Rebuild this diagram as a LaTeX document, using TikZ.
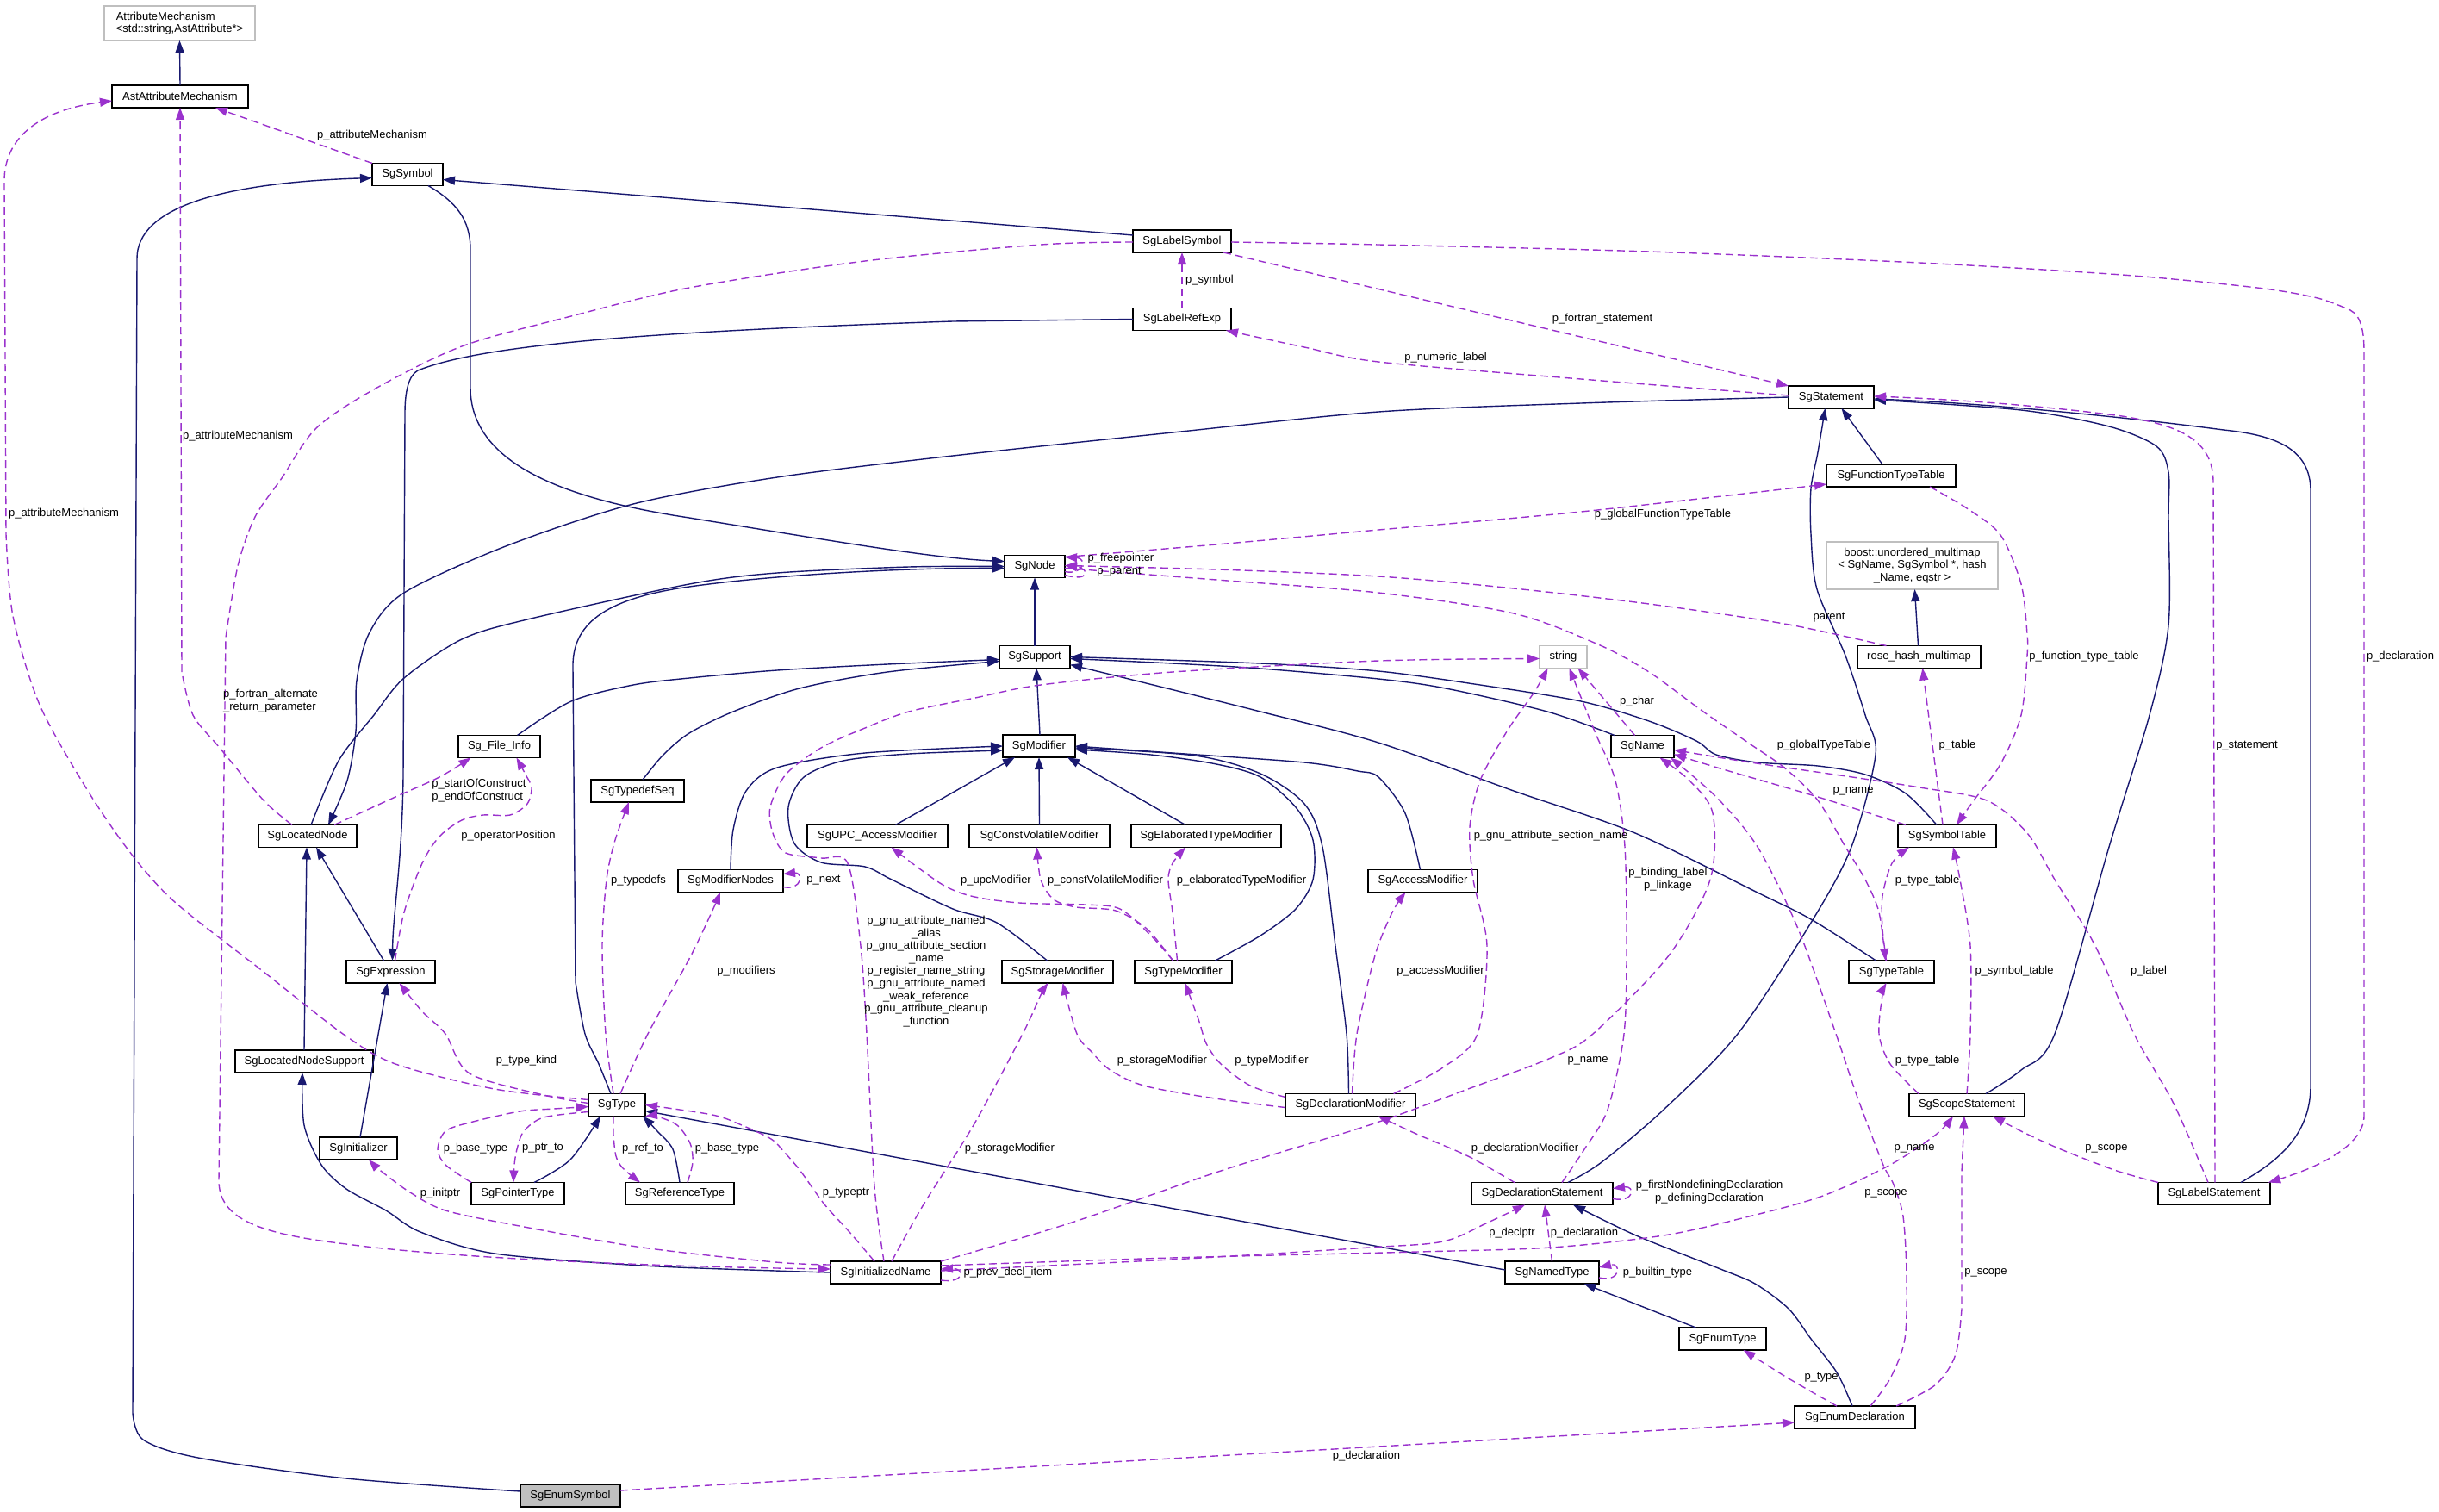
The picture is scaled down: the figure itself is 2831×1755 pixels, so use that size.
\documentclass[tikz,border=0pt]{standalone}
\usepackage{fontspec}
\setmainfont{Liberation Sans}
\usetikzlibrary{arrows.meta}
\definecolor{inhc}{HTML}{191970}
\definecolor{usec}{HTML}{9A32CD}
\definecolor{grayb}{HTML}{BFBFBF}
\tikzset{
 cls/.style={draw=black, line width=1.5pt, fill=white, minimum height=26pt, inner sep=0pt, outer sep=0pt, font=\fontsize{13}{15.5}\selectfont},
 ext/.style={cls, draw=grayb},
 inh/.style={draw=inhc, line width=1.4pt, -{Triangle[length=14pt,width=10pt]}},
 use/.style={draw=usec, line width=1.4pt, dash pattern=on 9pt off 5pt, -{Triangle[length=14pt,width=10pt]}},
 lbl/.style={font=\fontsize{13}{15}\selectfont, inner sep=0pt, align=center},
}
\begin{document}
\begin{tikzpicture}[x=1pt,y=-1pt]
\fill[white] (0,0) rectangle (2831,1755);
\useasboundingbox (0,0) rectangle (2831,1755);
% nodes
\node[ext, minimum width=175pt, minimum height=40pt, align=left, font=\fontsize{13}{14.3}\selectfont] (attr) at (208.5,27) {AttributeMechanism\\<std::string,AstAttribute*>};
\node[cls, minimum width=158pt] (ast) at (209,112) {AstAttributeMechanism};
\node[cls, minimum width=82pt] (sym) at (473,202.5) {SgSymbol};
\node[cls, minimum width=114pt] (lsym) at (1372,280) {SgLabelSymbol};
\node[cls, minimum width=114pt] (lref) at (1372,370.5) {SgLabelRefExp};
\node[cls, minimum width=99pt] (stmt) at (2125.5,461) {SgStatement};
\node[cls, minimum width=150pt] (ftt) at (2195,552) {SgFunctionTypeTable};
\node[cls, minimum width=70pt] (node) at (1201,657.5) {SgNode};
\node[ext, minimum width=199pt, minimum height=55pt, align=center, font=\fontsize{13}{14.4}\selectfont] (boost) at (2219.5,656.5) {boost::unordered\_multimap\\< SgName, SgSymbol *, hash\\\_Name, eqstr >};
\node[cls, minimum width=82pt] (sup) at (1201,762.5) {SgSupport};
\node[cls, minimum width=143pt] (rose) at (2227.5,762.5) {rose\_hash\_multimap};
\node[ext, minimum width=55pt] (str) at (1814.5,762.5) {string};
\node[cls, minimum width=95pt] (finfo) at (579.5,866.5) {Sg\_File\_Info};
\node[cls, minimum width=84pt] (mod) at (1206,866) {SgModifier};
\node[cls, minimum width=73pt] (name) at (1906.5,866.5) {SgName};
\node[cls, minimum width=108pt] (tdseq) at (740,918) {SgTypedefSeq};
\node[cls, minimum width=114pt] (locn) at (357,970.5) {SgLocatedNode};
\node[cls, minimum width=163pt] (upc) at (1018.5,970.5) {SgUPC\_AccessModifier};
\node[cls, minimum width=163pt] (cv) at (1206.5,970.5) {SgConstVolatileModifier};
\node[cls, minimum width=174pt] (elab) at (1400,970.5) {SgElaboratedTypeModifier};
\node[cls, minimum width=114pt] (symtab) at (2260,970.5) {SgSymbolTable};
\node[cls, minimum width=122pt] (modn) at (848,1022.5) {SgModifierNodes};
\node[cls, minimum width=127pt] (acc) at (1651.5,1022.5) {SgAccessModifier};
\node[cls, minimum width=103pt] (expr) at (453.5,1128) {SgExpression};
\node[cls, minimum width=129pt] (stor) at (1227.5,1128) {SgStorageModifier};
\node[cls, minimum width=113pt] (tmod) at (1373.5,1128) {SgTypeModifier};
\node[cls, minimum width=99pt] (ttab) at (2195.5,1128) {SgTypeTable};
\node[cls, minimum width=160pt] (lns) at (353,1232) {SgLocatedNodeSupport};
\node[cls, minimum width=66pt] (type) at (716,1282.5) {SgType};
\node[cls, minimum width=151pt] (dmod) at (1567.5,1282.5) {SgDeclarationModifier};
\node[cls, minimum width=134pt] (scope) at (2283,1282.5) {SgScopeStatement};
\node[cls, minimum width=90pt] (init) at (416,1333) {SgInitializer};
\node[cls, minimum width=108pt] (ptr) at (601,1385.5) {SgPointerType};
\node[cls, minimum width=126pt] (ref) at (789,1385.5) {SgReferenceType};
\node[cls, minimum width=164pt] (dstmt) at (1790,1385.5) {SgDeclarationStatement};
\node[cls, minimum width=130pt] (lstmt) at (2570,1385.5) {SgLabelStatement};
\node[cls, minimum width=128pt] (iname) at (1028,1477) {SgInitializedName};
\node[cls, minimum width=109pt] (ntype) at (1801.5,1477) {SgNamedType};
\node[cls, minimum width=101pt] (etype) at (1999.5,1554) {SgEnumType};
\node[cls, minimum width=140pt] (edecl) at (2153,1645) {SgEnumDeclaration};
\node[cls, minimum width=116pt, fill=grayb] (esym) at (662,1736) {SgEnumSymbol};

% inheritance edges
\draw[inh] (ast.north) -- (attr.south);
\draw[inh] plot[smooth,tension=0.5] coordinates {([yshift=5pt]esym.west) (402,1716) (230,1692) (166,1671) (154,1640)} -- (159,300) .. controls (159,240) and (260,212) .. ([yshift=-4pt]sym.west);
\draw[inh] ([yshift=7pt]lsym.west) -- ([yshift=-6pt]sym.east);
\draw[inh] ([xshift=24pt]sym.south) .. controls (530,235) and (546,255) .. (546,290) -- (546,450) .. controls (546,540) and (660,580) .. (800,601) .. controls (950,625) and (1080,648) .. ([yshift=6pt]node.west);
\draw[inh] (lref.west) -- (1106,373) .. controls (750,385) and (560,400) .. (485,430) .. controls (474,436) and (470,455) .. (470,480) -- (468,900) .. controls (467,1000) and (456,1060) .. ([xshift=2pt]expr.north);
\draw[inh] plot[smooth,tension=0.5] coordinates {(stmt.west) (1835,468) (1600,478) (1361,502) (1106,529) (902,554) (735,585) (587,634) (469,688) (429,734) (414,790) (413,849) (403,906) ([xshift=24pt]locn.north)};
\draw[inh] plot[smooth,tension=0.5] coordinates {([xshift=4pt]locn.north) (393,883) (434,830) (469,787) (536,742) (612,719) (800,678) (902,665) (1055,658) (node.west)};
\draw[inh] plot[smooth,tension=0.5] coordinates {([xshift=-7pt]type.north) (695,1235) (679,1200) (668,1140)} -- (665,775) .. controls (664,725) and (700,695) .. (800,681) .. controls (900,667) and (1050,659) .. ([yshift=-2pt]node.west);
\draw[inh] (sup.north) -- (node.south);
\draw[inh] ([xshift=1pt]mod.north) -- ([xshift=2pt]sup.south);
\draw[inh] plot[smooth,tension=0.5] coordinates {([xshift=21pt]finfo.north) (663,814) (735,795) (800,787) (902,778) (1030,771) ([yshift=-3pt]sup.west)};
\draw[inh] plot[smooth,tension=0.5] coordinates {([xshift=6pt]tdseq.north) (770,876) (800,851) (851,826) (928,799) (1030,780) ([yshift=-5pt]sup.west)};
\draw[inh] plot[smooth,tension=0.5] coordinates {([xshift=4pt]name.north west) (1796,826) (1678,799) (1600,788) (1463,776) (1361,770) ([yshift=-2pt]sup.east)};
\draw[inh] plot[smooth,tension=0.5] coordinates {([xshift=-12pt]symtab.north) (2212,921) (2165,899) (2110,889) (2040,885) (1992,876) (1969,860) (1914,837) (1835,814) (1718,795) (1600,779) (1463,770) (sup.east)};
\draw[inh] plot[smooth,tension=0.5] coordinates {([xshift=-18pt]ttab.north) (2102,1067) (2040,1036) (1898,967) (1757,918) (1600,862) (1463,826) (1310,788) ([yshift=-9pt]sup.east)};
\draw[inh] plot[smooth,tension=0.5] coordinates {(modn.north) (851,963) (866,918) (902,891) (1004,874) (mod.west)};
\draw[inh] plot[smooth,tension=0.5] coordinates {([xshift=-12pt]stor.north) (1157,1071) (1106,1055) (1035,1021) (1004,1006) (953,1001) (922,979) (915,937) (933,902) (979,883) (1055,875) ([yshift=-5pt]mod.west)};
\draw[inh] ([xshift=21pt]upc.north) -- ([xshift=-28pt]mod.south);
\draw[inh] (cv.north) -- (mod.south);
\draw[inh] ([xshift=-24pt]elab.north) -- ([xshift=33pt]mod.south);
\draw[inh] plot[smooth,tension=0.5] coordinates {([xshift=37pt]tmod.north) (1463,1086) (1504,1055) (1524,1021) (1524,975) (1504,937) (1463,902) (1412,887) (1336,876) ([yshift=-4pt]mod.east)};
\draw[inh] plot[smooth,tension=0.5] coordinates {([xshift=-2pt]dmod.north) (1563,1200) (1550,1098) (1535,983) (1514,933) (1463,898) (1387,877) ([yshift=-2pt]mod.east)};
\draw[inh] plot[smooth,tension=0.5] coordinates {([xshift=-3pt]acc.north) (1631,944) (1600,902) (1576,895) (1514,885) (1361,874) (mod.east)};
\draw[inh] (lns.north) -- ([xshift=-1pt]locn.south);
\draw[inh] ([xshift=-8pt]expr.north) -- ([xshift=10pt]locn.south);
\draw[inh] ([xshift=2pt]init.north) -- ([xshift=-4pt]expr.south);
\draw[inh] plot[smooth,tension=0.5] coordinates {(iname.west) (900,1475) (746,1469) (574,1455) (488,1430) (448,1405) (402,1380) (373,1352) (353,1306) ([xshift=-2pt]lns.south)};
\draw[inh] plot[smooth,tension=0.5] coordinates {([xshift=19pt]ptr.north) (662,1346) ([xshift=-19pt]type.south)};
\draw[inh] plot[smooth,tension=0.5] coordinates {(ref.north) (781,1334) (763,1313) ([xshift=30pt]type.south)};
\draw[inh] ([yshift=3pt]ntype.west) -- ([yshift=-7pt]type.east);
\draw[inh] ([xshift=-31pt]etype.north) -- ([xshift=37pt]ntype.south);
\draw[inh] plot[smooth,tension=0.5] coordinates {([xshift=30pt]dstmt.north) (1859,1349) (1931,1288) (2017,1200) (2102,1071) (2149,983) (2177,876) (2165,830) (2142,761) (2109,684) (2102,620) (2102,567) (2110,525) ([xshift=-7pt]stmt.south)};
\draw[inh] ([xshift=-10pt]ftt.north) -- ([xshift=12pt]stmt.south);
\draw[inh] plot[smooth,tension=0.5] coordinates {([xshift=22pt]scope.north) (2346,1242) (2385,1200) (2448,983) (2495,830) (2517,726) (2517,600) (2517,548) (2503,518) (2448,495) (2346,476) ([yshift=-3pt]stmt.east)};
\draw[inh] ([xshift=31pt]lstmt.north) .. controls (2640,1350) and (2682,1320) .. (2682,1260) -- (2682,570) .. controls (2682,520) and (2640,505) .. (2581,499) .. controls (2450,482) and (2300,468) .. ([yshift=-2pt]stmt.east);
\draw[inh] plot[smooth,tension=0.5] coordinates {([xshift=-3pt]edecl.north) (2132,1593) (2102,1554) (2076,1519) (2037,1490) (1997,1473) (1899,1434) ([xshift=36pt]dstmt.south)};
\draw[inh] ([xshift=-1pt]rose.north) -- ([xshift=3pt]boost.south);

% usage edges
\draw[use] (sym.north west) -- ([xshift=41pt]ast.south);
\draw[use] plot[smooth,tension=0.5] coordinates {([xshift=-18pt]locn.north) (306,929) (255,868) (224,830) (211,780)} -- (ast.south);
\draw[use] plot[smooth,tension=0.5] coordinates {([yshift=6pt]type.west) (574,1264) (459,1235) (398,1200) (306,1128) (204,1048) (153,992) (102,918) (46,818) (15,715) (7,620)} -- (5,210) .. controls (5,160) and (45,128) .. ([yshift=-5pt]ast.west);
\draw[use] plot[smooth,tension=0.5] coordinates {([yshift=-1pt]lsym.west) (1208,284) (1004,303) (800,334) (663,367) (536,402) (434,452) (367,497) (327,555) (296,600) (276,657) (262,740)} -- (254,1370) .. controls (254,1415) and (300,1432) .. (402,1444) .. controls (520,1460) and (750,1470) .. ([yshift=4pt]iname.west);
\draw[use] ([xshift=-9pt]lsym.south east) -- (stmt.north west);
\draw[use] plot[smooth,tension=0.5] coordinates {([yshift=-1pt]lsym.east) (1600,284) (1914,292) (2228,305) (2463,319) (2620,334) (2690,346) (2728,360)} .. controls (2741,367) and (2744,385) .. (2744,410) -- (2744,1295) .. controls (2744,1330) and (2690,1355) .. ([xshift=-2pt]lstmt.north east);
\draw[use] (lref.north) -- (lsym.south);
\draw[use] plot[smooth,tension=0.5] coordinates {([yshift=2pt]stmt.west) (1835,440) (1600,420) (1514,403) ([xshift=-6pt]lref.south east)};
\draw[use] ([yshift=-6pt]node.east) .. controls (1258,668) and (1262,648) .. ([yshift=11pt]node.east);
\draw[use] ([yshift=-10pt]node.east) .. controls (1264,676) and (1266,660) .. ([yshift=1pt]node.east);
\draw[use] plot[smooth,tension=0.5] coordinates {([yshift=11pt]node.east) (1412,632) (1600,615) (1835,594) ([yshift=-10pt]ftt.west)};
\draw[use] plot[smooth,tension=0.5] coordinates {([yshift=-2pt]node.east) (1412,673) (1600,688) (1757,712) (1855,748) (1914,780) (1977,826) (2032,864) (2071,891) (2110,929) (2142,983) (2165,1021) (2181,1059) ([xshift=-7pt]ttab.north)};
\draw[use] plot[smooth,tension=0.5] coordinates {([xshift=-38pt]rose.north) (2071,724) (1914,701) (1757,683) (1600,669) (1412,661) ([yshift=1pt]node.east)};
\draw[use] plot[smooth,tension=0.5] coordinates {([xshift=-2pt]iname.north) (1015,1377) (1006,1200) (999,1098) (984,1002) (953,996) (912,990) (897,967) (894,937) (912,899) (953,868) (1004,845) (1055,826) (1132,810) (1208,795) (1361,780) (1600,767) ([yshift=-2pt]str.west)};
\draw[use] plot[smooth,tension=0.5] coordinates {([xshift=50pt]dmod.north) (1675,1239) (1715,1200) (1726,1098) (1710,1021) (1706,960) (1718,906) (1749,849) (1781,803) ([xshift=-18pt]str.south)};
\draw[use] ([xshift=-9pt]name.north) -- ([xshift=17pt]str.south);
\draw[use] plot[smooth,tension=0.5] coordinates {([xshift=23pt]dstmt.north) (1839,1334) (1866,1288) (1885,1200) (1888,1100) (1886,983) (1875,906) (1851,849) ([xshift=7pt]str.south)};
\draw[use] plot[smooth,tension=0.5] coordinates {(iname.north east) (1244,1419) (1417,1359) (1589,1306) (1704,1264) (1800,1228) (1849,1200) (1937,1109) (1985,1021) (1988,944) (1961,906) ([xshift=20pt]name.south)};
\draw[use] plot[smooth,tension=0.5] coordinates {([xshift=18pt]edecl.north) (2194,1600) (2211,1554) (2213,1480) (2209,1412) (2198,1375) (2185,1350) (2155,1271) (2131,1200) (2087,1078) (2040,983) (1992,925) ([xshift=-4pt]name.south east)};
\draw[use] plot[smooth,tension=0.5] coordinates {([xshift=9pt]symtab.north west) (2110,925) (2000,893) ([yshift=-9pt]name.east)};
\draw[use] plot[smooth,tension=0.5] coordinates {([xshift=-7pt]lstmt.north) (2523,1281) (2477,1200) (2432,1098) (2385,1021) (2353,967) (2306,929) (2228,914) (2150,902) (2032,885) ([yshift=-4pt]name.east)};
\draw[use] ([xshift=1pt]lstmt.north) -- (2569,560) .. controls (2569,510) and (2530,494) .. (2463,483) .. controls (2380,472) and (2280,464) .. ([yshift=1pt]stmt.east);
\draw[use] plot[smooth,tension=0.5] coordinates {(lstmt.north west) (2457,1359) (2392,1334) (2346,1313) ([xshift=30pt]scope.south)};
\draw[use] plot[smooth,tension=0.5] coordinates {(scope.north) (2287,1200) (2287,1098) (2275,1021) ([xshift=7pt]symtab.south)};
\draw[use] plot[smooth,tension=0.5] coordinates {([xshift=-56pt]scope.north) (2194,1235) (2181,1200) (2185,1155) ([xshift=-6pt]ttab.south)};
\draw[use] plot[smooth,tension=0.5] coordinates {([xshift=-6pt]ttab.north) (2185,1078) (2185,1040) (2196,1002) ([xshift=-44pt]symtab.south)};
\draw[use] ([xshift=-5pt]symtab.north) -- ([xshift=4pt]rose.south);
\draw[use] plot[smooth,tension=0.5] coordinates {([xshift=45pt]ftt.south) (2283,590) (2322,621) (2346,678) (2353,736) (2353,761) (2346,830) (2322,887) (2291,929) ([xshift=11pt]symtab.north)};
\draw[use] plot[smooth,tension=0.5] coordinates {([xshift=-32pt]dstmt.north) (1704,1342) (1646,1317) ([xshift=32pt]dmod.south)};
\draw[use] ([yshift=-6pt]dstmt.east) .. controls (1898,1396) and (1898,1376) .. ([yshift=6pt]dstmt.east);
\draw[use] plot[smooth,tension=0.5] coordinates {([yshift=2pt]iname.east) (1359,1462) (1589,1448) (1675,1441) (1727,1419) ([xshift=-20pt]dstmt.south)};
\draw[use] plot[smooth,tension=0.5] coordinates {([yshift=8pt]iname.east) (1359,1460) (1646,1453) (1800,1448) (1931,1434) (2030,1412) (2116,1388) (2194,1352) (2247,1317) ([xshift=-16pt]scope.south)};
\draw[use] (ntype.north) -- ([xshift=3pt]dstmt.south);
\draw[use] ([yshift=-6pt]ntype.east) .. controls (1882,1489) and (1882,1465) .. ([yshift=6pt]ntype.east);
\draw[use] ([yshift=6pt]esym.east) -- ([yshift=-6pt]edecl.west);
\draw[use] plot[smooth,tension=0.5] coordinates {([xshift=-21pt]edecl.north) (2076,1600) ([xshift=24pt]etype.south)};
\draw[use] plot[smooth,tension=0.5] coordinates {([xshift=48pt]edecl.north) (2247,1607) (2270,1572) (2277,1519)} -- (2277,1360) -- ([xshift=-3pt]scope.south);
\draw[use] ([yshift=-9pt]iname.east) .. controls (1120,1490) and (1120,1472) .. ([yshift=4pt]iname.east);
\draw[use] plot[smooth,tension=0.5] coordinates {([xshift=-13pt]iname.north) (986,1430) (957,1398) (929,1359) (911,1338) (895,1322) (861,1306) (827,1294) (type.east)};
\draw[use] plot[smooth,tension=0.5] coordinates {([xshift=7pt]iname.north) (1072,1398) (1130,1306) (1187,1200) (1208,1155) ([xshift=-11pt]stor.south)};
\draw[use] plot[smooth,tension=0.5] coordinates {([yshift=9pt]iname.west) (900,1465) (746,1448) (603,1423) (517,1405) (476,1384) (442,1359) ([xshift=12pt]init.south)};
\draw[use] plot[smooth,tension=0.5] coordinates {([yshift=-3pt]dmod.west) (1417,1276) (1331,1261) (1290,1243) (1267,1221) (1250,1200) ([xshift=6pt]stor.south)};
\draw[use] plot[smooth,tension=0.5] coordinates {([yshift=9pt]dmod.west) (1451,1260) (1417,1235) (1400,1211) (1392,1186) ([xshift=2pt]tmod.south)};
\draw[use] plot[smooth,tension=0.5] coordinates {([xshift=2pt]dmod.north) (1575,1200) (1596,1109) (1616,1059) ([xshift=-20pt]acc.south)};
\draw[use] plot[smooth,tension=0.5] coordinates {([xshift=-12pt]tmod.north) (1336,1086) (1300,1055) (1259,1050) (1183,1048) (1127,1040) (1091,1025) ([xshift=16pt]upc.south)};
\draw[use] plot[smooth,tension=0.5] coordinates {([xshift=-12pt]tmod.north) (1331,1078) (1295,1057) (1249,1053) (1223,1044) (1208,1021) ([xshift=-3pt]cv.south)};
\draw[use] plot[smooth,tension=0.5] coordinates {([xshift=-7pt]tmod.north) (1361,1059) (1356,1021) (1361,1002) ([xshift=-24pt]elab.south)};
\draw[use] ([yshift=-7pt]modn.east) .. controls (932,1034) and (932,1012) .. ([yshift=8pt]modn.east);
\draw[use] plot[smooth,tension=0.5] coordinates {([xshift=4pt]type.north) (752,1200) (800,1113) (826,1059) ([xshift=-12pt]modn.south)};
\draw[use] plot[smooth,tension=0.5] coordinates {([xshift=-4pt]type.north) (703,1200) (699,1098) (704,1021) (714,975) ([xshift=-10pt]tdseq.south)};
\draw[use] plot[smooth,tension=0.5] coordinates {([yshift=2pt]type.west) (631,1271) (545,1246) (517,1200) (490,1174) ([xshift=10pt]expr.south)};
\draw[use] plot[smooth,tension=0.5] coordinates {([xshift=5pt]expr.north) (469,1059) (490,1002) (510,971) (536,952) (561,946) (592,946) (612,933) (617,914) (610,899) ([xshift=20pt]finfo.south)};
\draw[use] plot[smooth,tension=0.5] coordinates {([xshift=31pt]locn.north) (459,925) (510,902) ([xshift=-33pt]finfo.south)};
\draw[use] plot[smooth,tension=0.5] coordinates {(ptr.north west) (517,1352) (508,1334) (517,1313) (545,1303) (603,1290) (643,1287) ([yshift=-2pt]type.west)};
\draw[use] plot[smooth,tension=0.5] coordinates {([yshift=-8pt]type.west) (631,1297) (608,1313) (600,1334) (597,1352) ([xshift=-5pt]ptr.north)};
\draw[use] plot[smooth,tension=0.5] coordinates {([xshift=-4pt]type.south) (712,1317) (715,1342) (723,1356) ([xshift=17pt]ref.north west)};
\draw[use] plot[smooth,tension=0.5] coordinates {([xshift=9pt]ref.north) (804,1349) (801,1327) (786,1306) (763,1296) (type.south east)};

% labels
\node[lbl] (l1) at (432,157) {p\_attributeMechanism};
\node[lbl] (l2) at (276,506) {p\_attributeMechanism};
\node[lbl] (l3) at (74,596) {p\_attributeMechanism};
\node[lbl, align=left] (l4) at (314,814) {p\_fortran\_alternate\\\_return\_parameter};
\node[lbl] (l5) at (1404,325) {p\_symbol};
\node[lbl] (l6) at (1860,370) {p\_fortran\_statement};
\node[lbl] (l7) at (1678,415) {p\_numeric\_label};
\node[lbl] (l8) at (2786,762) {p\_declaration};
\node[lbl] (l9) at (1930,597) {p\_globalFunctionTypeTable};
\node[lbl] (l10) at (1301,648) {p\_freepointer};
\node[lbl] (l11) at (1299,664) {p\_parent};
\node[lbl] (l12) at (2123,717) {parent};
\node[lbl] (l13) at (2419,762) {p\_function\_type\_table};
\node[lbl] (l14) at (2608,866) {p\_statement};
\node[lbl] (l15) at (2117,865) {p\_globalTypeTable};
\node[lbl] (l16) at (2272,865) {p\_table};
\node[lbl] (l17) at (1900,814) {p\_char};
\node[lbl] (l18) at (2151,918) {p\_name};
\node[lbl] (l19) at (1800,970) {p\_gnu\_attribute\_section\_name};
\node[lbl] (l20) at (1936,1021) {p\_binding\_label\\p\_linkage};
\node[lbl, align=left] (l21) at (556,918) {p\_startOfConstruct\\p\_endOfConstruct};
\node[lbl] (l22) at (590,970) {p\_operatorPosition};
\node[lbl] (l23) at (741,1022) {p\_typedefs};
\node[lbl] (l24) at (866,1127) {p\_modifiers};
\node[lbl] (l25) at (956,1022) {p\_next};
\node[lbl, font=\fontsize{13}{14.6}\selectfont] (l26) at (1075,1127.5) {p\_gnu\_attribute\_named\\\_alias\\p\_gnu\_attribute\_section\\\_name\\p\_register\_name\_string\\p\_gnu\_attribute\_named\\\_weak\_reference\\p\_gnu\_attribute\_cleanup\\\_function};
\node[lbl] (l27) at (1156,1022) {p\_upcModifier};
\node[lbl] (l28) at (1283,1022) {p\_constVolatileModifier};
\node[lbl] (l29) at (1441,1022) {p\_elaboratedTypeModifier};
\node[lbl] (l30) at (1672,1127) {p\_accessModifier};
\node[lbl] (l31) at (2237,1022) {p\_type\_table};
\node[lbl] (l32) at (2338,1127) {p\_symbol\_table};
\node[lbl] (l33) at (2494,1127) {p\_label};
\node[lbl] (l34) at (2237,1231) {p\_type\_table};
\node[lbl] (l35) at (1349,1231) {p\_storageModifier};
\node[lbl] (l36) at (1476,1231) {p\_typeModifier};
\node[lbl] (l37) at (1843,1231) {p\_name};
\node[lbl] (l38) at (611,1231) {p\_type\_kind};
\node[lbl] (l39) at (1172,1333) {p\_storageModifier};
\node[lbl] (l40) at (1770,1333) {p\_declarationModifier};
\node[lbl] (l41) at (2222,1333) {p\_name};
\node[lbl] (l42) at (2445,1333) {p\_scope};
\node[lbl] (l43) at (552,1333) {p\_base\_type};
\node[lbl] (l44) at (630,1333) {p\_ptr\_to};
\node[lbl] (l45) at (746,1333) {p\_ref\_to};
\node[lbl] (l46) at (844,1333) {p\_base\_type};
\node[lbl] (l47) at (982,1385) {p\_typeptr};
\node[lbl] (l48) at (511,1385) {p\_initptr};
\node[lbl] (l49) at (1984,1384) {p\_firstNondefiningDeclaration\\p\_definingDeclaration};
\node[lbl] (l50) at (2189,1385) {p\_scope};
\node[lbl] (l51) at (1755,1431) {p\_declptr};
\node[lbl] (l52) at (1839,1431) {p\_declaration};
\node[lbl] (l53) at (2305,1477) {p\_scope};
\node[lbl] (l54) at (1170,1477) {p\_prev\_decl\_item};
\node[lbl] (l55) at (1924,1477) {p\_builtin\_type};
\node[lbl] (l56) at (2114,1599) {p\_type};
\node[lbl] (l57) at (1586,1690) {p\_declaration};
\end{tikzpicture}
\end{document}
